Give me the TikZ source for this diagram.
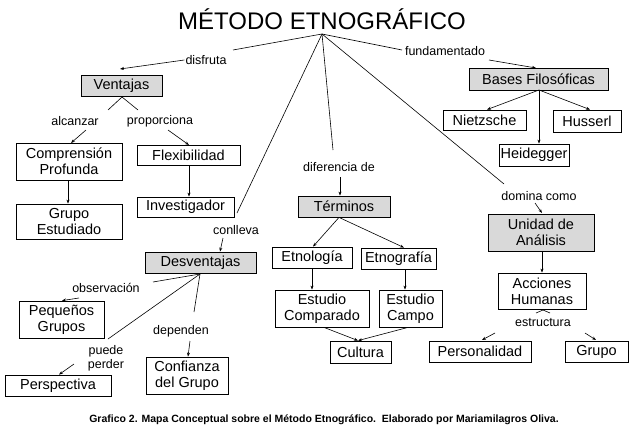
\documentclass[tikz,border=0pt]{standalone}
\usepackage{fontspec}
\setmainfont{Liberation Sans}
\usetikzlibrary{arrows.meta}
\tikzset{
  box/.style={draw=black, line width=0.8pt, fill=white, inner sep=0pt, align=center, font=\fontsize{14.5}{16}\selectfont},
  gbox/.style={box, fill=black!15},
  lbl/.style={font=\fontsize{12.5}{14}\selectfont, align=center, inner sep=1pt},
  ln/.style={line width=0.6pt},
  ar/.style={line width=0.6pt, -{Stealth[length=4pt,width=3pt]}}
}
\newcommand{\bx}[7]{\node[#1, minimum width=#4pt-#2pt, minimum height=#5pt-#3pt] (#6) at ({(#2+#4)/2},{(#3+#5)/2}) {#7};}
\begin{document}
\begin{tikzpicture}[x=1pt,y=-1pt]
\useasboundingbox (0,0) rectangle (640,431);
\fill[white] (0,0) rectangle (640,431);
\node[font=\fontsize{24}{27}\selectfont] (title) at (322,19) {MÉTODO ETNOGRÁFICO};
\coordinate (apex) at (322,34);
% boxes
\bx{gbox}{81}{75}{162}{96}{ven}{Ventajas}
\bx{box}{16}{143}{122}{180}{cp}{Comprensión\\Profunda}
\bx{box}{137}{145}{240}{165}{fle}{Flexibilidad}
\bx{box}{16}{204}{122}{239}{ge}{Grupo\\Estudiado}
\bx{box}{137}{197}{234}{217}{inv}{Investigador}
\bx{gbox}{145}{252}{256}{273}{des}{Desventajas}
\bx{box}{19}{301}{104}{338}{pg}{Pequeños\\Grupos}
\bx{box}{5}{375}{111}{396}{per}{Perspectiva}
\bx{box}{146}{357}{228}{394}{con}{Confianza\\del Grupo}
\bx{gbox}{298}{196}{390}{217}{ter}{Términos}
\bx{box}{272}{247}{352}{268}{etl}{Etnología}
\bx{box}{361}{248}{436}{269}{etg}{Etnografía}
\bx{box}{275}{290}{369}{327}{eco}{Estudio\\Comparado}
\bx{box}{379}{290}{442}{327}{eca}{Estudio\\Campo}
\bx{box}{330}{341}{391}{363}{cul}{Cultura}
\bx{gbox}{469}{68}{608}{90}{bas}{Bases Filosóficas}
\bx{box}{443}{110}{526}{130}{nie}{Nietzsche}
\bx{box}{553}{110}{621}{132}{hus}{Husserl}
\bx{box}{499}{144}{569}{166}{hei}{Heidegger}
\bx{gbox}{488}{214}{594}{251}{uni}{Unidad de\\Análisis}
\bx{box}{498}{273}{586}{309}{acc}{Acciones\\Humanas}
\bx{box}{429}{341}{531}{362}{pers}{Personalidad}
\bx{box}{565}{341}{628}{362}{gru}{Grupo}
% labels
\node[lbl] (l1) at (206,60) {disfruta};
\node[lbl] (l2) at (75,121) {alcanzar};
\node[lbl] (l3) at (160,121) {proporciona};
\node[lbl] (l4) at (236,230) {conlleva};
\node[lbl] (l5) at (339,167) {diferencia de};
\node[lbl] (l6) at (539,196) {domina como};
\node[lbl] (l7) at (445,51) {fundamentado};
\node[lbl] (l8) at (106,288) {observación};
\node[lbl] (l9) at (106,358) {puede\\perder};
\node[lbl] (l10) at (181,331) {dependen};
\node[lbl] (l11) at (543,323) {estructura};
\node[font=\bfseries\fontsize{10.5}{12}\selectfont] (cap) at (324,420) {Grafico 2. Mapa Conceptual sobre el Método Etnográfico.\ \ Elaborado por Mariamilagros Oliva.};
% connectors from title
\draw[ln] (apex) -- (233,50);
\draw[ar] (l1.west) -- (120,69);
\draw[ln] (apex) -- (237,213);
\draw[ar] (223,238) -- (des.north -| 220,0);
\draw[ln] (apex) -- (333,150);
\draw[ar] (340,177) -- (ter.north -| 340,0);
\draw[ln] (apex) -- (504,184);
\draw[ar] (535,203) -- (542,213);
\draw[ln] (apex) -- (402,50);
\draw[ar] (489,60) -- (536,68);
% ventajas
\coordinate (vh) at (122,97);
\draw[ln] (108,110) -- (vh) -- (138,110);
\draw[ar] (86,130) -- (71,143);
\draw[ar] (168,130) -- (189,145);
\draw[ar] (cp.south -| 68,0) -- (ge.north -| 68,0);
\draw[ar] (fle.south -| 189,0) -- (inv.north -| 189,0);
% bases
\coordinate (bh) at (539,90);
\draw[ar] (bh) -- (nie.north -| 487,0);
\draw[ar] (bh) -- (hei.north -| 539,0);
\draw[ar] (bh) -- (hus.north -| 590,0);
% terminos
\draw[ar] (ter.south -| 339,0) -- (etl.north -| 313,0);
\draw[ar] (ter.south -| 339,0) -- (etg.north -| 404,0);
\draw[ar] (etl.south -| 312,0) -- (eco.north -| 312,0);
\draw[ar] (etg.south -| 405,0) -- (eca.north -| 405,0);
\draw[ar] (eco.south -| 324,0) -- (cul.north -| 358,0);
\draw[ar] (eca.south -| 408,0) -- (cul.north -| 358,0);
% desventajas
\coordinate (dh) at (200,274);
\draw[ln] (dh) -- (153,282);
\draw[ar] (79,298) -- (pg.north -| 62,0);
\draw[ln] (dh) -- (108,339);
\draw[ar] (74,364) -- (per.north -| 59,0);
\draw[ln] (dh) -- (194,312);
\draw[ar] (190,341) -- (con.north -| 188,0);
% unidad
\draw[ar] (uni.south -| 542,0) -- (acc.north -| 542,0);
\draw[ln] (536,313) -- (543,310) -- (550,313);
\draw[ar] (495,333) -- (482,340);
\draw[ar] (585,333) -- (596,340);
\end{tikzpicture}
\end{document}
